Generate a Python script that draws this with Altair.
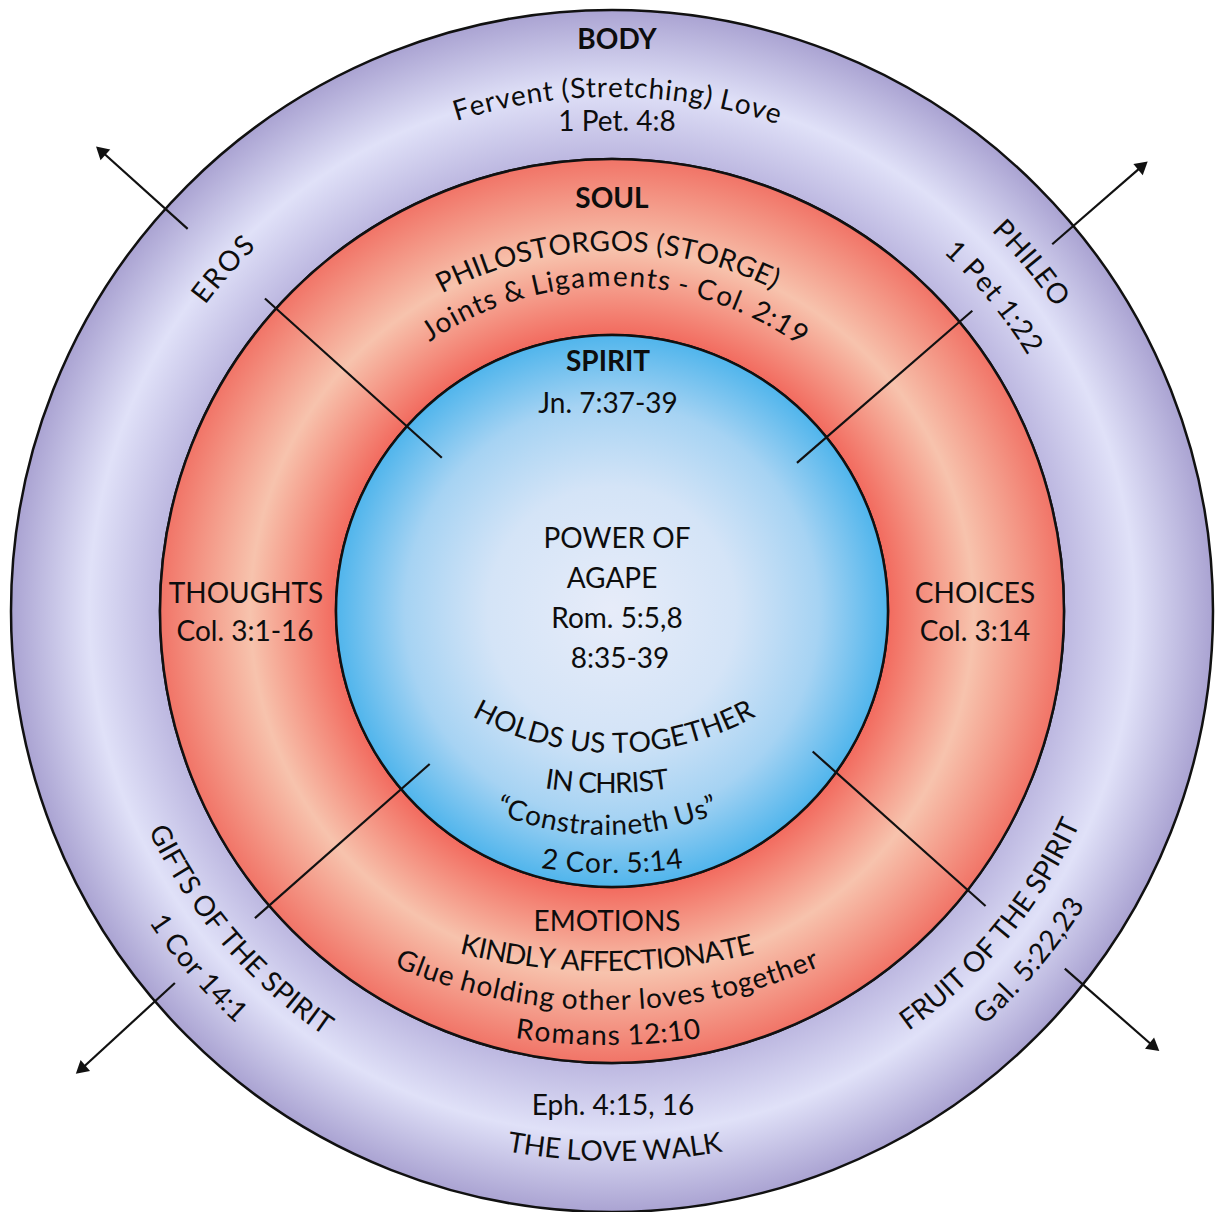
import math
import altair as alt
import pandas as pd

# ---------------- data ----------------
CX, CY = 612, 611          # centre of the diagram (image pixels)

ring_names = ["BODY", "SOUL", "SPIRIT"]
ring_outer = [601, 452, 276]
ring_inner = [452, 276, 0]

# straight labels
label_text = ["BODY", "1 Pet. 4:8", "SOUL", "SPIRIT", "Jn. 7:37-39",
              "POWER OF", "AGAPE", "Rom. 5:5,8", "8:35-39",
              "THOUGHTS", "Col. 3:1-16", "CHOICES", "Col. 3:14",
              "EMOTIONS", "Eph. 4:15, 16"]
label_bold = [True, False, True, True, False,
              False, False, False, False,
              False, False, False, False,
              False, False]
label_x = [617, 617, 612, 608, 608, 617, 612, 617, 620, 246, 245, 975, 975, 607, 613]
label_y = [41, 123, 200, 363, 405, 540, 580, 620, 660, 595, 633, 595, 633, 923, 1107]

# curved labels (text following a circle)
arc_text = ["Fervent (Stretching) Love", "PHILOSTORGOS (STORGE)",
            "Joints & Ligaments - Col. 2:19", "EROS", "PHILEO", "1 Pet 1:22",
            "GIFTS OF THE SPIRIT", "1 Cor 14:1", "FRUIT OF THE SPIRIT", "Gal. 5:22,23",
            "HOLDS US TOGETHER", "IN CHRIST", "\u201cConstraineth Us\u201d", "2 Cor. 5:14",
            "KINDLY AFFECTIONATE", "Glue holding other loves together",
            "Romans 12:10", "THE LOVE WALK"]
arc_side = ["top", "top", "top", "top", "top", "top",
            "bottom", "bottom", "bottom", "bottom",
            "bottom", "bottom", "bottom", "bottom",
            "bottom", "bottom", "bottom", "bottom"]
arc_cx = [612, 612, 612, 612, 612, 612, 612, 612, 612, 612,
          614, 607, 607, 612, 607, 607, 608, 615]
arc_cy = [611, 611, 611, 611, 611, 611, 611, 611, 611, 611,
          461, 385, 541, 365, 353, 468, 437, 553]
arc_r = [522, 368, 333, 517, 545, 496, 505, 550, 506, 549,
         284, 400, 286, 500, 610, 534, 600, 600]
arc_mid = [0.6, 359.3, 0.6, 311.3, 50.3, 50.6, 229.4, 229.2, 129.6, 130,
           180, 180, 180, 180, 180, 180, 180, 180]
arc_span = [36.5, 55, 69.6, 8.9, 10.8, 15.8, 30.6, 13.8, 30.3, 16.3,
            58.4, 17.6, 45.2, 16.2, 27.6, 46.4, 17.7, 20.5]

# connector line segments (polar: radius, angle clockwise from north)
seg_r0 = [229, 571, 237, 573, 238, 574, 245, 577]
seg_a0 = [312, 312, 51.3, 50.2, 230, 229.6, 125, 128.3]
seg_r1 = [467, 687, 469, 692, 471, 701, 476, 695]
seg_a1 = [312, 312, 50.2, 50.0, 229.3, 229.2, 128.3, 128.8]

# arrow heads
tip_r = [688, 693, 702, 696]
tip_a = [312, 50.0, 229.2, 128.8]

# approximate Lato advance widths (em) used to space characters on arcs
CHAR_W = {
    'A': .68, 'B': .64, 'C': .66, 'D': .74, 'E': .56, 'F': .54, 'G': .72, 'H': .75,
    'I': .28, 'J': .40, 'K': .66, 'L': .49, 'M': .90, 'N': .75, 'O': .79, 'P': .60,
    'Q': .79, 'R': .62, 'S': .53, 'T': .58, 'U': .72, 'V': .68, 'W': 1.0, 'X': .65,
    'Y': .62, 'Z': .62,
    'a': .50, 'b': .56, 'c': .46, 'd': .56, 'e': .52, 'f': .32, 'g': .50, 'h': .56,
    'i': .24, 'j': .24, 'k': .50, 'l': .24, 'm': .83, 'n': .56, 'o': .56, 'p': .55,
    'q': .56, 'r': .37, 's': .43, 't': .35, 'u': .56, 'v': .50, 'w': .76, 'x': .50,
    'y': .50, 'z': .46,
    ' ': .24, '.': .22, ',': .22, ':': .24, '-': .33, '(': .30, ')': .30, '&': .68,
    '\u201c': .38, '\u201d': .38,
}

# ---------------- tables ----------------
rings = pd.DataFrame({"ring": ring_names, "outer": ring_outer, "inner": ring_inner,
                      "cx": CX, "cy": CY, "t0": 0, "t1": 360})
labels = pd.DataFrame({"text": label_text, "bold": label_bold, "x": label_x, "y": label_y})

rows = []
for k, s in enumerate(arc_text):
    ws = [CHAR_W.get(c, 0.55) for c in s]
    total = sum(ws)
    cum = 0.0
    for c, w in zip(s, ws):
        frac = (cum + w / 2) / total
        cum += w
        off = (frac - 0.5) * arc_span[k]
        if arc_side[k] == "top":
            th = arc_mid[k] + off
            rot = th
        else:
            th = arc_mid[k] - off
            rot = th - 180
        if c == " ":
            continue
        rows.append({"ch": c, "cx": arc_cx[k], "cy": arc_cy[k], "r": arc_r[k],
                     "th": th % 360, "rot": rot % 360})
chars = pd.DataFrame(rows)

segs = pd.DataFrame({"r0": seg_r0, "a0": seg_a0, "r1": seg_r1, "a1": seg_a1, "cx": CX, "cy": CY})
tips = pd.DataFrame({"r": tip_r, "a": tip_a, "cx": CX, "cy": CY})

# ---------------- scales ----------------
W, H = 1208, 1204
xs = alt.Scale(domain=[8, 8 + W], range=[0, W], nice=False, zero=False)
ys = alt.Scale(domain=[8, 8 + H], range=[0, H], nice=False, zero=False)
rs = alt.Scale(type="linear", domain=[0, 600], range=[0, 600], zero=True, nice=False)
ts = alt.Scale(domain=[0, 360], range=[0, 2 * math.pi], nice=False, zero=False)
angs = alt.Scale(domain=[0, 360], range=[0, 360], nice=False, zero=False)

X = lambda f: alt.X(f, scale=xs, axis=None)
Y = lambda f: alt.Y(f, scale=ys, axis=None)


def grad(stops):
    return alt.RadialGradient(
        gradient="radial", x1=0.5, y1=0.5, r1=0, x2=0.5, y2=0.5, r2=0.5,
        stops=[alt.GradientStop(offset=o, color=c) for o, c in stops])


fills = {
    "BODY": grad([(0.752, "#bcb7e0"), (0.87, "#e0e1f8"), (1.0, "#aaa3d2")]),
    "SOUL": grad([(0.61, "#f26a5e"), (0.80, "#f7c3ad"), (1.0, "#f17467")]),
    "SPIRIT": grad([(0.0, "#e7ecf9"), (0.45, "#d4e4f7"), (0.75, "#a6d3f3"), (1.0, "#50b5ec")]),
}

base_r = alt.Chart(rings)
ring_layers = []
for name in ring_names:
    ring_layers.append(
        base_r.transform_filter(alt.datum.ring == name)
        .mark_arc(fill=fills[name], stroke="#111111", strokeWidth=2.5)
        .encode(x=X("cx:Q"), y=Y("cy:Q"),
                theta=alt.Theta("t0:Q", scale=ts, stack=False), theta2="t1:Q",
                radius=alt.Radius("outer:Q", scale=rs), radius2="inner:Q")
    )

lines = alt.Chart(segs).transform_calculate(
    x0="datum.cx + datum.r0*sin(datum.a0*PI/180)",
    y0="datum.cy - datum.r0*cos(datum.a0*PI/180)",
    x1="datum.cx + datum.r1*sin(datum.a1*PI/180)",
    y1="datum.cy - datum.r1*cos(datum.a1*PI/180)",
).mark_rule(color="#111111", strokeWidth=2.2).encode(
    x=X("x0:Q"), y=Y("y0:Q"), x2="x1:Q", y2="y1:Q")

heads = alt.Chart(tips).transform_calculate(
    px="datum.cx + datum.r*sin(datum.a*PI/180)",
    py="datum.cy - datum.r*cos(datum.a*PI/180)",
).mark_point(shape="triangle-up", filled=True, size=210, color="#111111", opacity=1).encode(
    x=X("px:Q"), y=Y("py:Q"), angle=alt.Angle("a:Q", scale=angs))

FONT = "Lato"
FS = 28
TXT = "#0d0d0d"
curved = alt.Chart(chars).mark_text(
    font=FONT, fontSize=FS, align="center", baseline="middle", color=TXT
).encode(
    x=X("cx:Q"), y=Y("cy:Q"),
    radius=alt.Radius("r:Q", scale=rs),
    theta=alt.Theta("th:Q", scale=ts, stack=False),
    angle=alt.Angle("rot:Q", scale=angs),
    text="ch:N")

plain = alt.Chart(labels).transform_filter(alt.datum.bold == False).mark_text(
    font=FONT, fontSize=FS, align="center", baseline="middle", color=TXT
).encode(x=X("x:Q"), y=Y("y:Q"), text="text:N")

bold = alt.Chart(labels).transform_filter(alt.datum.bold == True).mark_text(
    font=FONT, fontSize=FS, fontWeight="bold", align="center", baseline="middle", color=TXT
).encode(x=X("x:Q"), y=Y("y:Q"), text="text:N")

chart = alt.layer(*ring_layers, lines, heads, curved, plain, bold).properties(
    width=W, height=H, padding=0, autosize="none", background="white"
).configure_view(strokeWidth=0)

chart.save("out.html", embed_options={"renderer": "svg", "actions": False})
